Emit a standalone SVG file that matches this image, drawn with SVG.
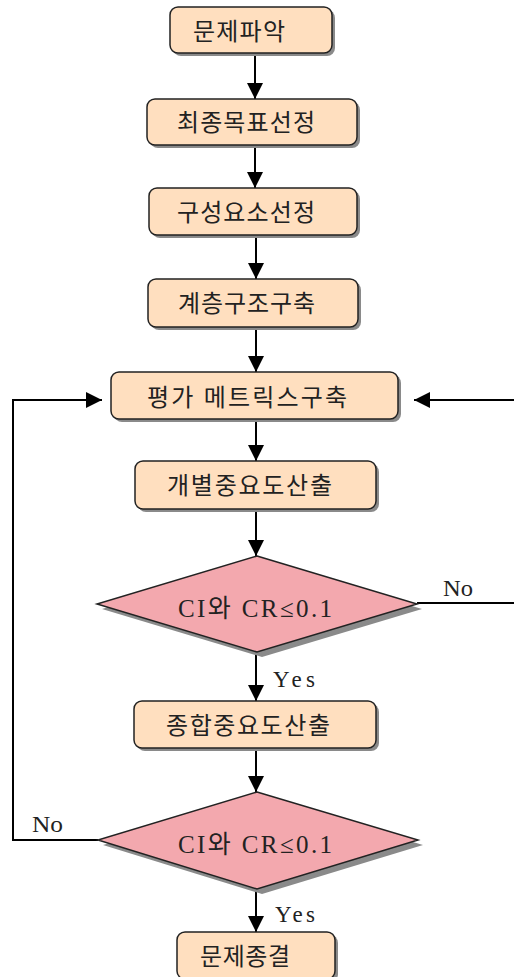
<svg xmlns="http://www.w3.org/2000/svg" width="514" height="977" viewBox="0 0 514 977">
<style>
.box{fill:#FFDFBF;stroke:#222;stroke-width:1.5}
.dia{fill:#F3A8AE;stroke:#222;stroke-width:1.5}
.sh{fill:#8a8a8a}
.t{font-family:"Liberation Serif","Noto Sans CJK KR",serif;font-size:24px;fill:#222}
.c{font-size:25px}
.y{font-size:23px}
.ln{fill:none;stroke:#000;stroke-width:2}
</style>
<defs>
<marker id="ah" viewBox="0 0 16 16" refX="16" refY="8" markerWidth="16" markerHeight="16" markerUnits="userSpaceOnUse" orient="auto">
<path d="M0,0 L16,8 L0,16 Z" fill="#000"/>
</marker>
</defs>
<rect width="514" height="977" fill="#fff"/>
<g id="connectors">
<line class="ln" x1="255" y1="53" x2="255" y2="99" marker-end="url(#ah)"/>
<line class="ln" x1="255" y1="145" x2="255" y2="188" marker-end="url(#ah)"/>
<line class="ln" x1="256" y1="235" x2="256" y2="279" marker-end="url(#ah)"/>
<line class="ln" x1="256" y1="327" x2="256" y2="372" marker-end="url(#ah)"/>
<line class="ln" x1="256" y1="419" x2="256" y2="461" marker-end="url(#ah)"/>
<line class="ln" x1="256" y1="509" x2="256" y2="556" marker-end="url(#ah)"/>
<line class="ln" x1="256" y1="652" x2="256" y2="701" marker-end="url(#ah)"/>
<line class="ln" x1="256" y1="748" x2="256" y2="792" marker-end="url(#ah)"/>
<line class="ln" x1="256" y1="889" x2="256" y2="932" marker-end="url(#ah)"/>
<polyline class="ln" points="417,603 514,603"/>
<line class="ln" x1="514" y1="400" x2="414" y2="400" marker-end="url(#ah)"/>
<polyline class="ln" points="98,840 13,840 13,400 102,400" marker-end="url(#ah)"/>
<text class="t y" x="443" y="596" textLength="30" lengthAdjust="spacingAndGlyphs">No</text>
<text class="t y" x="32" y="832" textLength="31" lengthAdjust="spacingAndGlyphs">No</text>
<text class="t y" x="273" y="687" textLength="42" lengthAdjust="spacing">Yes</text>
<text class="t y" x="275" y="922" textLength="40" lengthAdjust="spacing">Yes</text>
</g>
<g id="n1">
<rect class="sh" x="173" y="10" width="162" height="46" rx="8"/>
<rect class="box" x="170" y="7" width="162" height="46" rx="8"/>
<text class="t" x="193" y="40" textLength="92" lengthAdjust="spacing">문제파악</text>
</g>
<g id="n2">
<rect class="sh" x="150" y="102" width="210" height="46" rx="8"/>
<rect class="box" x="147" y="99" width="210" height="46" rx="8"/>
<text class="t" x="177" y="131" textLength="138" lengthAdjust="spacing">최종목표선정</text>
</g>
<g id="n3">
<rect class="sh" x="152" y="191" width="208" height="47" rx="8"/>
<rect class="box" x="149" y="188" width="208" height="47" rx="8"/>
<text class="t" x="177" y="221" textLength="138" lengthAdjust="spacing">구성요소선정</text>
</g>
<g id="n4">
<rect class="sh" x="151" y="282" width="210" height="48" rx="8"/>
<rect class="box" x="148" y="279" width="210" height="48" rx="8"/>
<text class="t" x="178" y="312" textLength="137" lengthAdjust="spacing">계층구조구축</text>
</g>
<g id="n5">
<rect class="sh" x="114" y="375" width="287" height="47" rx="8"/>
<rect class="box" x="111" y="372" width="287" height="47" rx="8"/>
<text class="t" x="147" y="406" textLength="200" lengthAdjust="spacing">평가 메트릭스구축</text>
</g>
<g id="n6">
<rect class="sh" x="138" y="464" width="241" height="48" rx="8"/>
<rect class="box" x="135" y="461" width="241" height="48" rx="8"/>
<text class="t" x="167" y="494" textLength="165" lengthAdjust="spacing">개별중요도산출</text>
</g>
<g id="d1">
<polygon class="sh" points="262,561 422,609 262,657 102,609"/>
<polygon class="dia" points="257,556 417,604 257,652 97,604"/>
<text class="t c" x="178" y="617" textLength="154" lengthAdjust="spacing">CI와 CR≤0.1</text>
</g>
<g id="n7">
<rect class="sh" x="137" y="704" width="242" height="47" rx="8"/>
<rect class="box" x="134" y="701" width="242" height="47" rx="8"/>
<text class="t" x="166" y="734" textLength="164" lengthAdjust="spacing">종합중요도산출</text>
</g>
<g id="d2">
<polygon class="sh" points="262,797 423,845 262,894 103,845"/>
<polygon class="dia" points="257,792 418,840 257,889 98,840"/>
<text class="t c" x="178" y="853" textLength="154" lengthAdjust="spacing">CI와 CR≤0.1</text>
</g>
<g id="n8">
<rect class="sh" x="180" y="935" width="158" height="47" rx="8"/>
<rect class="box" x="177" y="932" width="158" height="47" rx="8"/>
<text class="t" x="200" y="965" textLength="90" lengthAdjust="spacing">문제종결</text>
</g>
</svg>
